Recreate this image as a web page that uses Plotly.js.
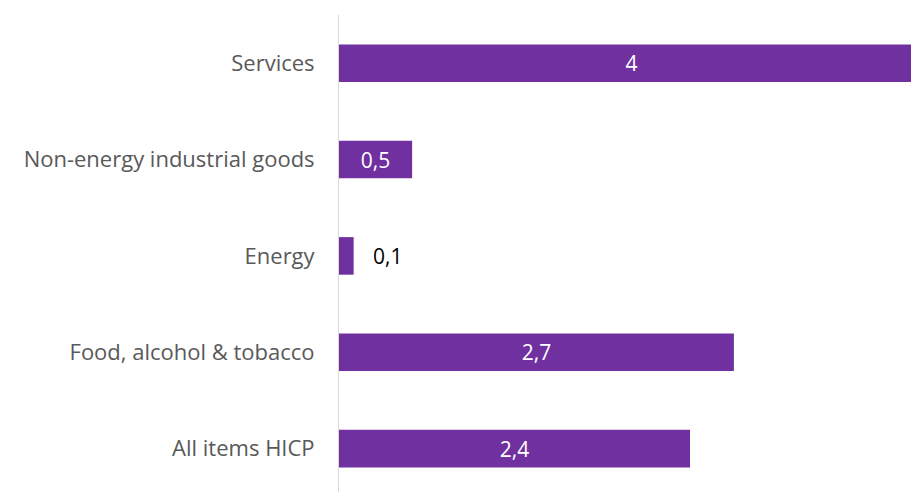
<!DOCTYPE html>
<html>
<head>
<meta charset="utf-8">
<script src="https://cdn.plot.ly/plotly-3.0.1.min.js"></script>
<style>html,body{margin:0;padding:0;overflow:hidden;background:#fff;}</style>
</head>
<body>
<div id="chart" style="width:911px;height:492px;"></div>
<script>
const categories = ["All items HICP", "Food, alcohol & tobacco", "Energy", "Non-energy industrial goods", "Services"];
const values = [2.4, 2.7, 0.1, 0.5, 4];
const labelPositions = ["inside", "inside", "outside", "inside", "inside"];

const labels = values.map((v, i) => {
  const s = String(v).replace('.', ',');
  return labelPositions[i] === 'outside' ? '\u00a0\u00a0\u00a0' + s : s;
});

const trace = {
  type: 'bar',
  orientation: 'h',
  y: categories,
  x: values,
  text: labels,
  textposition: labelPositions,
  insidetextanchor: 'middle',
  texttemplate: '%{text}',
  hoverinfo: 'none',
  marker: {color: '#7030A0', line: {width: 0}},
  width: 0.39,
  insidetextfont: {family: 'Open Sans, sans-serif', size: 21, color: '#ffffff'},
  outsidetextfont: {family: 'Open Sans, sans-serif', size: 21, color: '#000000'},
  cliponaxis: true,
  constraintext: 'none'
};

const layout = {
  width: 911,
  height: 492,
  margin: {l: 339, r: 0, t: 15, b: 0},
  paper_bgcolor: '#ffffff',
  plot_bgcolor: '#ffffff',
  showlegend: false,
  separators: ', ',
  xaxis: {
    range: [0, 3.911],
    showgrid: false,
    zeroline: false,
    showticklabels: false,
    showline: false,
    fixedrange: true
  },
  yaxis: {
    type: 'category',
    range: [-0.45, 4.5],
    showgrid: false,
    zeroline: false,
    showline: true,
    linecolor: '#d9d9d9',
    linewidth: 1,
    ticks: '',
    ticklabelstandoff: 19,
    tickfont: {family: 'Open Sans, sans-serif', size: 22, color: '#595959'},
    fixedrange: true
  }
};

Plotly.newPlot('chart', [trace], layout, {displayModeBar: false, staticPlot: true});
</script>
</body>
</html>
